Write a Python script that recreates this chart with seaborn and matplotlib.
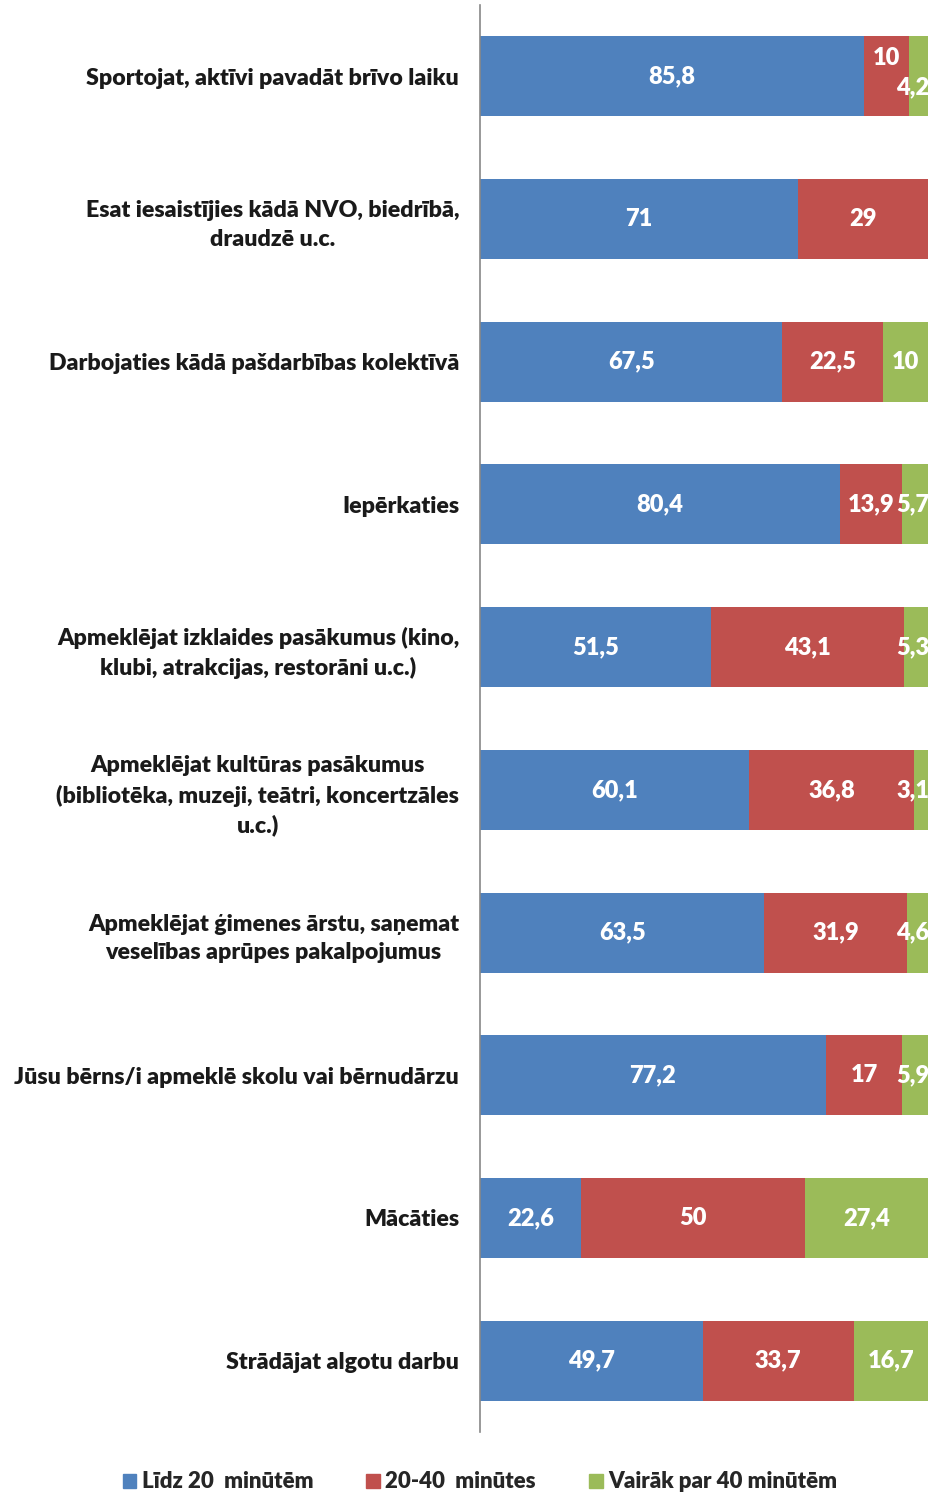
import numpy as np
import pandas as pd
import seaborn as sns
import matplotlib.pyplot as plt

sns.set_style("white")
plt.rcParams['font.family'] = ['Lato', 'DejaVu Sans']

categories = [
    "Sportojat, aktīvi pavadāt brīvo laiku",
    "Esat iesaistījies kādā NVO, biedrībā,\ndraudzē u.c.",
    "Darbojaties kādā pašdarbības kolektīvā",
    "Iepērkaties",
    "Apmeklējat izklaides pasākumus (kino,\nklubi, atrakcijas, restorāni u.c.)",
    "Apmeklējat kultūras pasākumus\n(bibliotēka, muzeji, teātri, koncertzāles\nu.c.)",
    "Apmeklējat ģimenes ārstu, saņemat\nveselības aprūpes pakalpojumus",
    "Jūsu bērns/i apmeklē skolu vai bērnudārzu",
    "Mācāties",
    "Strādājat algotu darbu",
]
lidz20 = [85.8, 71, 67.5, 80.4, 51.5, 60.1, 63.5, 77.2, 22.6, 49.7]
no20lidz40 = [10, 29, 22.5, 13.9, 43.1, 36.8, 31.9, 17, 50, 33.7]
virs40 = [4.2, 0, 10, 5.7, 5.3, 3.1, 4.6, 5.9, 27.4, 16.7]
series_names = ["Līdz 20  minūtēm", "20-40  minūtes", "Vairāk par 40 minūtēm"]
colors = ["#4F81BD", "#C0504D", "#9BBB59"]

df = pd.DataFrame({"cat": categories, "a": lidz20, "b": no20lidz40, "c": virs40})
df["ab"] = df["a"] + df["b"]
df["abc"] = df["ab"] + df["c"]

fig = plt.figure(figsize=(9.3, 14.96), dpi=100)
ax = fig.add_axes([480 / 930, 1 - 1432 / 1496, 448 / 930, 1427 / 1496])

# stacked bars drawn as overlapping cumulative layers
for col, color in zip(["abc", "ab", "a"], colors[::-1]):
    sns.barplot(data=df, y="cat", x=col, color=color, orient="h", width=0.56,
                saturation=1, ax=ax, linewidth=0)

ax.set_xlim(0, 100)
ax.set_ylim(len(categories) - 0.5, -0.5)
ax.set_xlabel("")
ax.set_ylabel("")
ax.set_xticks([])
for s in ["top", "right", "bottom"]:
    ax.spines[s].set_visible(False)
ax.spines["left"].set_color("#888888")
ax.spines["left"].set_linewidth(1.2)
ax.tick_params(axis="y", length=0, pad=15)
ax.set_yticks(range(len(categories)))
ax.set_yticklabels(categories, fontsize=16.7, fontweight="heavy", color="#1a1a1a",
                   multialignment="center", linespacing=1.45)

def fmt(v):
    return ("%g" % v).replace(".", ",")

lab = dict(color="white", fontsize=17, fontweight="heavy", va="center")
for i in range(len(categories)):
    a, b, c = lidz20[i], no20lidz40[i], virs40[i]
    ax.text(a / 2, i, fmt(a), ha="center", **lab)
    dy_b, dy_c = (-0.13, 0.08) if i == 0 else (0, 0)
    if b > 0:
        ax.text(a + b / 2, i + dy_b, fmt(b), ha="center", **lab)
    if c > 0:
        if c < 6:
            ax.text(100.3, i + dy_c, fmt(c), ha="right", clip_on=False, **lab)
        else:
            ax.text(a + b + c / 2, i, fmt(c), ha="center", **lab)

handles = [plt.Rectangle((0, 0), 1, 1, color=cl) for cl in colors]
fig.legend(handles, series_names, loc="center", bbox_to_anchor=(0.516, 1 - 1482 / 1496),
           ncol=3, frameon=False, handlelength=0.6, handleheight=0.6, handletextpad=0.25,
           columnspacing=2.4, prop={"size": 16, "weight": "heavy"})

fig.savefig("out.png", dpi=100, facecolor="white")
